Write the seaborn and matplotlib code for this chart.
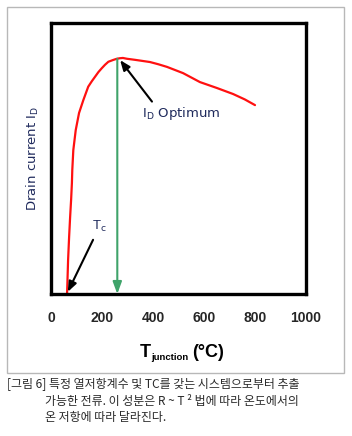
import numpy as np
import pandas as pd
import matplotlib
matplotlib.use('Agg')
import matplotlib.pyplot as plt
from matplotlib.patches import Rectangle
import seaborn as sns

sns.set_theme(style='white')
plt.rcParams['font.family'] = ['DejaVu Sans', 'Noto Sans CJK KR']
plt.rcParams['mathtext.fontset'] = 'custom'
plt.rcParams['mathtext.rm'] = 'DejaVu Sans'

# 곡선 데이터
temp_c = [63, 67, 71, 75, 79, 82, 83.5, 87.5, 97, 110, 127, 146, 160, 173, 186, 199,
          212, 225, 242, 258, 270, 282, 298, 330, 388, 420, 455, 518, 584, 651, 714,
          760, 800]
drain_current = [0, 12.5, 21, 28.4, 35, 41, 45.8, 53.1, 60.5, 66.8, 71.6, 76.5, 78.5,
                 80.2, 81.9, 83.3, 84.6, 85.7, 86.3, 86.8, 87.0, 87.1, 86.8, 86.4,
                 85.6, 84.8, 83.8, 81.5, 78.2, 76, 73.8, 71.8, 69.7]

x_ticks = [0, 200, 400, 600, 800, 1000]

# 주석 위치
peak_T, peak_I = 260, 86.8
opt_label_T, opt_label_I = 358, 66.5
opt_tail_T, opt_tail_I = 396, 71
opt_head_T, opt_head_I = 271, 86.3
tc_label_T, tc_label_I = 188, 25
tc_tail_T, tc_tail_I = 165, 20
tc_head_T, tc_head_I = 66, 0.8

caption = ['[그림 6] 특정 열저항계수 및 TC를 갖는 시스템으로부터 추출',
           '가능한 전류. 이 성분은 R ~ T ² 법에 따라 온도에서의',
           '온 저항에 따라 달라진다.']

navy = '#1f2a5c'
W, H = 352, 436

fig = plt.figure(figsize=(W / 100, H / 100), dpi=100)
ax = fig.add_axes([51 / W, 1 - 294 / H, 255 / W, 271 / H])

df = pd.DataFrame({'T': temp_c, 'I': drain_current})
sns.lineplot(data=df, x='T', y='I', color='#ff1010', lw=1.6, ax=ax, sort=False)

# 최적점 수직 화살표
ax.annotate('', xy=(peak_T, 0), xytext=(peak_T, peak_I),
            arrowprops=dict(arrowstyle='-|>,head_length=0.6,head_width=0.22',
                            color='#3fa36a', lw=1.5, shrinkA=0, shrinkB=0))
# I_D Optimum
ax.annotate('', xy=(opt_head_T, opt_head_I), xytext=(opt_tail_T, opt_tail_I),
            arrowprops=dict(arrowstyle='-|>,head_length=0.5,head_width=0.2',
                            color='black', lw=1.5, shrinkA=0, shrinkB=0))
ax.text(opt_label_T, opt_label_I, r'I$_\mathrm{D}$ Optimum', color=navy,
        fontsize=9.5, va='center', ha='left')
# T_c
ax.annotate('', xy=(tc_head_T, tc_head_I), xytext=(tc_tail_T, tc_tail_I),
            arrowprops=dict(arrowstyle='-|>,head_length=0.5,head_width=0.2',
                            color='black', lw=1.5, shrinkA=0, shrinkB=0))
ax.text(tc_label_T, tc_label_I, r'T$_\mathrm{c}$', color=navy, fontsize=9.5,
        va='center', ha='center', family='Liberation Sans')

ax.set_xlim(0, 1000)
ax.set_ylim(0, 100)
ax.set_xticks(x_ticks)
ax.set_xticklabels([str(t) for t in x_ticks], fontweight='bold', family='Liberation Sans',
                   fontsize=10)
ax.set_yticks([])
ax.tick_params(axis='x', direction='in', length=4, width=2, pad=12, color='black')
for s in ax.spines.values():
    s.set_linewidth(2.4)
    s.set_color('black')

ax.set_xlabel('')
ax.set_ylabel(r'Drain current I$_\mathrm{D}$', fontsize=9.5, color=navy, labelpad=7)

# x축 제목: T + 작은 아래첨자 junction + (°C)
lab = dict(fontweight='bold', family='Liberation Sans', color='black')
fig.text(140 / W, 1 - 357 / H, 'T', fontsize=13, va='baseline', **lab)
fig.text(151 / W, 1 - 360 / H, 'junction', fontsize=6.8, va='baseline', **lab)
fig.text(192 / W, 1 - 357 / H, '(°C)', fontsize=13, va='baseline', **lab)

fig.patches.append(Rectangle((7 / W, 1 - 373 / H), 337 / W, 366 / H,
                             transform=fig.transFigure, fill=False,
                             ec='#b8b8b8', lw=1))

cap_font = ['Noto Sans CJK KR', 'DejaVu Sans']
fig.text(7 / W, 1 - 385 / H, caption[0], family=cap_font, fontsize=8.6,
         color='#2a2a2a', va='center')
fig.text(45 / W, 1 - 401 / H, caption[1], family=cap_font, fontsize=8.6,
         color='#2a2a2a', va='center')
fig.text(45 / W, 1 - 417 / H, caption[2], family=cap_font, fontsize=8.6,
         color='#2a2a2a', va='center')

fig.savefig('out.png', dpi=100)
